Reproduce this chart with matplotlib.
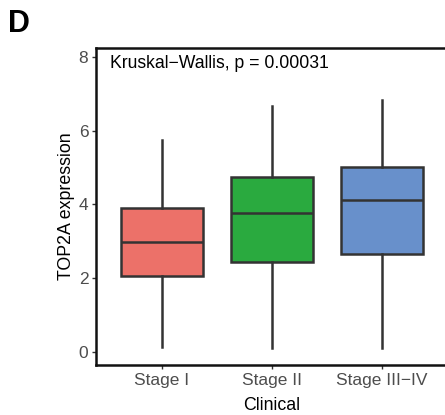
import matplotlib
matplotlib.use("Agg")
import matplotlib.pyplot as plt

categories = ["Stage I", "Stage II", "Stage III\u2212IV"]
whislo = [0.13, 0.12, 0.11]
q1 = [2.07, 2.44, 2.67]
med = [2.99, 3.78, 4.11]
q3 = [3.90, 4.74, 5.02]
whishi = [5.76, 6.67, 6.84]
colors = ["#EC7169", "#2AAA3F", "#6890CB"]
yticks = [0, 2, 4, 6, 8]
annotation = "Kruskal\u2212Wallis, p = 0.00031"

plt.rcParams['font.family'] = ['Liberation Sans', 'DejaVu Sans']

fig = plt.figure(figsize=(4.45, 4.15), dpi=100)
ax = fig.add_axes([96/445, 50/415, 352/445, 317/415])

stats = []
for i, c in enumerate(categories):
    stats.append(dict(label=c, whislo=whislo[i], q1=q1[i], med=med[i], q3=q3[i], whishi=whishi[i], fliers=[]))

edge = "#333333"
bp = ax.bxp(stats, positions=range(len(categories)), widths=0.75, patch_artist=True,
            showfliers=False, showcaps=False,
            boxprops=dict(edgecolor=edge, linewidth=1.8),
            medianprops=dict(color=edge, linewidth=1.8),
            whiskerprops=dict(color=edge, linewidth=1.8))
for patch, col in zip(bp['boxes'], colors):
    patch.set_facecolor(col)

ax.set_xlim(-0.6, 2.6)
ax.set_ylim(-0.35, 8.24)
ax.set_yticks(yticks)
ax.set_yticklabels([str(v) for v in yticks])
ax.set_xticks(range(len(categories)))
ax.set_xticklabels(categories)
ax.tick_params(axis='both', colors="#333333", labelcolor="#4D4D4D", labelsize=12.5, length=3, width=1, pad=2.5)
for side in ['left', 'bottom', 'top']:
    ax.spines[side].set_linewidth(1.8)
    ax.spines[side].set_color("#111111")
ax.spines['right'].set_visible(False)

ax.set_ylabel("TOP2A expression", fontsize=12.8, color="black", labelpad=3)
ax.set_xlabel("Clinical", fontsize=12.8, color="black", labelpad=6.5)

fig.text(110/445, 1 - 63/415, annotation, fontsize=12.7,
         ha='left', va='center', color="black")
fig.text(8/445, 1 - 24/415, "D", fontsize=22, fontweight='bold', ha='left', va='center')

fig.savefig("out.png", dpi=100)
